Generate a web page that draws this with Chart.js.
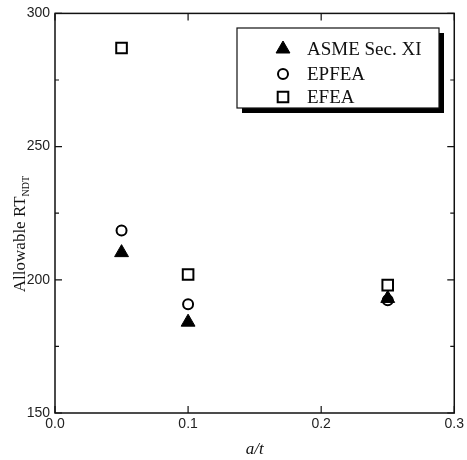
<!DOCTYPE html>
<html>
<head>
<meta charset="UTF-8">
<title>Allowable RTNDT vs a/t</title>
<script src="https://cdn.jsdelivr.net/npm/chart.js"></script>
<style>
    body { margin: 0; background: #fff; }
    #wrap { width: 467px; height: 460px; }
</style>
</head>
<body>
<div id="wrap"><canvas id="c" width="467" height="460"></canvas></div>
<script>
    // values
    var aOverT = [0.05, 0.1, 0.25];
    var asme   = [210.2, 184.1, 193];
    var epfea  = [218.5, 190.8, 192.3];
    var efea   = [287, 202, 198];
    var seriesNames = ['ASME Sec. XI', 'EPFEA', 'EFEA'];

    function pts(ys) {
        return aOverT.map(function (x, i) { return { x: x, y: ys[i] }; });
    }

    // ticks pointing into the plot + frame
    var frame = {
        id: 'frame',
        afterDraw: function (chart) {
            var ctx = chart.ctx, a = chart.chartArea;
            var xs = chart.scales.x, ys = chart.scales.y;
            ctx.save();
            ctx.strokeStyle = '#111';
            ctx.lineWidth = 1.5;
            ctx.strokeRect(a.left, a.top, a.right - a.left, a.bottom - a.top);
            ctx.lineWidth = 1.2;
            ctx.beginPath();
            xs.ticks.forEach(function (t) {
                var px = xs.getPixelForValue(t.value);
                ctx.moveTo(px, a.bottom); ctx.lineTo(px, a.bottom - 7);
                ctx.moveTo(px, a.top); ctx.lineTo(px, a.top + 7);
            });
            ys.ticks.forEach(function (t) {
                var py = ys.getPixelForValue(t.value);
                var len = t.value % 50 === 0 ? 7 : 4;
                ctx.moveTo(a.left, py); ctx.lineTo(a.left + len, py);
                ctx.moveTo(a.right, py); ctx.lineTo(a.right - len, py);
            });
            ctx.stroke();

            // y title with subscript
            ctx.fillStyle = '#111';
            ctx.translate(19, 234);
            ctx.rotate(-Math.PI / 2);
            var main = 'Allowable RT';
            ctx.font = '17px "Liberation Serif"';
            var w1 = ctx.measureText(main).width;
            ctx.font = '10px "Liberation Serif"';
            var w2 = ctx.measureText('NDT').width;
            var start = -(w1 + w2) / 2;
            ctx.textBaseline = 'alphabetic';
            ctx.font = '17px "Liberation Serif"';
            ctx.fillText(main, start, 6);
            ctx.font = '10px "Liberation Serif"';
            ctx.fillText('NDT', start + w1, 10);
            ctx.restore();

            // legend box with drop shadow
            var bx = 237, by = 28, bw = 202, bh = 80;
            ctx.save();
            ctx.fillStyle = '#000';
            ctx.fillRect(bx + 5, by + 5, bw, bh);
            ctx.fillStyle = '#fff';
            ctx.fillRect(bx, by, bw, bh);
            ctx.strokeStyle = '#111';
            ctx.lineWidth = 1.2;
            ctx.strokeRect(bx, by, bw, bh);
            var rowsY = [49, 74, 97];
            chart.data.datasets.forEach(function (ds, i) {
                ctx.fillStyle = ds.pointBackgroundColor;
                ctx.strokeStyle = ds.pointBorderColor;
                ctx.lineWidth = ds.pointBorderWidth;
                Chart.helpers.drawPoint(ctx, {
                    pointStyle: ds.pointStyle,
                    radius: ds.pointRadius,
                    rotation: 0,
                    borderWidth: ds.pointBorderWidth
                }, 283, rowsY[i]);
                ctx.fillStyle = '#111';
                ctx.font = '19px "Liberation Serif"';
                ctx.textBaseline = 'middle';
                ctx.fillText(ds.label, 307, rowsY[i] + 1);
            });
            ctx.restore();
        }
    };

    new Chart(document.getElementById('c'), {
        type: 'scatter',
        data: {
            datasets: [
                { label: seriesNames[0], data: pts(asme), pointStyle: 'triangle', pointRadius: 8,
                  pointBackgroundColor: '#000', pointBorderColor: '#000', pointBorderWidth: 1 },
                { label: seriesNames[1], data: pts(epfea), pointStyle: 'circle', pointRadius: 5,
                  pointBackgroundColor: '#fff', pointBorderColor: '#000', pointBorderWidth: 2 },
                { label: seriesNames[2], data: pts(efea), pointStyle: 'rect', pointRadius: 7.5,
                  pointBackgroundColor: '#fff', pointBorderColor: '#000', pointBorderWidth: 2 }
            ]
        },
        options: {
            responsive: false,
            animation: false,
            layout: { padding: { top: 12, right: 0, left: 0, bottom: 0 } },
            plugins: { legend: { display: false }, tooltip: { enabled: false } },
            scales: {
                x: {
                    type: 'linear', min: 0, max: 0.3,
                    border: { display: false },
                    grid: { display: false, drawTicks: false },
                    ticks: {
                        stepSize: 0.1, padding: 3, color: '#222',
                        font: { family: '"Liberation Sans"', size: 14 },
                        callback: function (v) { return v.toFixed(1); }
                    },
                    title: {
                        display: true, text: 'a/t', color: '#111', padding: { top: 10, bottom: 0 },
                        font: { family: '"Liberation Serif"', size: 17, style: 'italic' }
                    },
                    afterFit: function (s) { s.height = 47; }
                },
                y: {
                    min: 150, max: 300,
                    border: { display: false },
                    grid: { display: false, drawTicks: false },
                    ticks: {
                        stepSize: 25, padding: 5, color: '#222',
                        font: { family: '"Liberation Sans"', size: 14 },
                        callback: function (v) { return v % 50 === 0 ? v : ''; }
                    },
                    afterFit: function (s) { s.width = 55; }
                }
            }
        },
        plugins: [frame]
    });
</script>
</body>
</html>
